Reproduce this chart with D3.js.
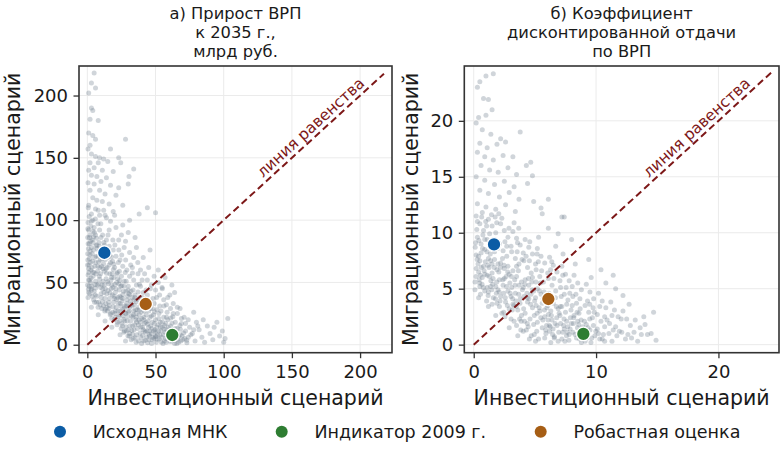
<!DOCTYPE html>
<html lang="ru">
<head>
    <meta charset="UTF-8">
    <title>Сценарии</title>
    <script src="https://d3js.org/d3.v7.min.js"></script>
    <style>
        body { margin: 0; background: #ffffff; }
        svg text { font-family: "DejaVu Sans", sans-serif; fill: #1a1a1a; }
    </style>
</head>
<body>
<svg width="784" height="456"></svg>
<script>
// cloud for panel a (investment scenario, migration scenario)
const cloudA = [
    [5,218],[3,210],[6,206],[1,202],[3,190],[4,188],[2,181],[8,180],[1,170],[4,168],[6,165],[2,160],[0.5,157],[3,153],
    [6,151],[9,150],[12,149],[2,146],[8,146],[15,147],[5,142],[1,140],[11,140],[19,139],[3,136],[7,135],[14,134],[10,131],
    [0.5,130],[5,129],[17,128],[23,126],[2,124],[9,124],[13,121],[21,120],[4,118],[7,116],[11,115],[16,113],[1,112],[26,112],
    [6,109],[12,108],[19,107],[3,105],[9,104],[28,165],[34,141],[44,110],[50,106],[17,157],[23,150],[24.5,146],[30.6,135],
    [30,129],[14,102],[38,105],[31,100],
    [0.5,98],[1,92],[0.3,86],[1.5,81],[0.8,77],[2,72],[0.4,68],[1.2,64],[2.5,60],[0.6,56],[1.8,52],[0.2,48],[2.8,45],[1,42],
    [0.5,38],[2,88],[2.6,95],[1.4,103],[0.7,110],[2.2,66],[3,78],[1.1,58],[2.4,50],
    [4,100],[5,94],[6,88],[3.5,84],[7,80],[4.5,76],[6.5,71],[3.8,67],[5.5,63],[7.5,59],[4.2,55],[6,51],[3.3,47],[5,43],
    [7,39],[4.6,36],[6.8,34],[5.2,90],[7.8,97],[3.6,73],[6.2,66],[4.8,58],[7.3,48],[5.8,40],
    [9,92],[10,86],[8.5,82],[11,77],[12,72],[9.5,68],[10.5,63],[12.5,59],[8.8,55],[11.5,51],[9.8,46],[12.2,42],[10.2,38],
    [8.3,34],[11.8,31],[10.6,29],[12.8,27],[9.2,62],[11.2,88],[12.6,80],[8.6,75],[10.8,48],[9.4,32],
    [14,84],[16,79],[13.5,74],[15,70],[17,66],[14.5,62],[16.5,57],[13.8,53],[15.5,49],[17.5,45],[14.2,41],[16.2,37],[13.6,33],
    [15.8,29],[17.2,25],[14.8,27],[16.8,24],[15.2,88],[17.8,54],[13.2,45],[16,64],[14.4,30],
    [19,76],[21,71],[18.5,67],[20,62],[22,58],[19.5,54],[21.5,50],[18.8,46],[20.5,42],[22.5,38],[19.2,34],[21.2,30],[18.6,26],
    [20.8,22],[22.2,18],[19.8,20],[21.8,16],[20.2,80],[22.8,66],[18.2,57],[21,45],[19.6,39],[22.4,27],
    [24,68],[26,63],[23.5,59],[25,55],[27,51],[24.5,47],[26.5,43],[23.8,39],[25.5,35],[27.5,31],[24.2,27],[26.2,23],[23.6,19],
    [25.8,15],[27.2,11],[24.8,13],[26.8,10],[25.2,72],[27.8,58],[23.2,49],[26,37],[24.6,31],[27.4,19],
    [29,60],[31,55],[28.5,51],[30,47],[32,43],[29.5,39],[31.5,35],[28.8,31],[30.5,27],[32.5,23],[29.2,19],[31.2,15],[28.6,11],
    [30.8,7],[32.2,4],[29.8,7],[31.8,64],[30.4,41],[32.8,31],[28.2,25],[31,9],
    [34,52],[36,48],[33.5,44],[35,40],[37,36],[34.5,32],[36.5,28],[33.8,24],[35.5,20],[37.5,16],[34.2,12],[36.2,8],[33.6,5],
    [35.8,2],[37.2,57],[36,22],[34.8,38],[37.8,30],[33.2,15],
    [39,47],[41,42],[38.5,38],[40,34],[42,30],[39.5,26],[41.5,22],[38.8,18],[40.5,14],[42.5,10],[39.2,6],[41.2,3],[40.2,52],
    [42.8,36],[38.4,28],[41.8,17],[39.8,1],
    [44,40],[46,35],[43.5,31],[45,27],[47,23],[44.5,19],[46.5,15],[43.8,11],[45.5,7],[47.5,4],[44.2,1.5],[46.2,45],[47.8,29],
    [45.8,11],[43.2,24],
    [49,33],[51,28],[48.5,24],[50,20],[52,16],[49.5,12],[51.5,8],[48.8,5],[50.5,2],[52.5,25],[50.8,38],[49.2,17],[52.2,11],
    [54,27],[56,22],[53.5,18],[55,14],[57,10],[54.5,6],[56.5,3],[55.5,1],[57.5,17],[54.8,46],[56.2,31],
    [59,20],[61,15],[63,11],[60,6],[62,3],[64,1],[58.5,26],[64.5,18],[60.5,40],[63,25],
    [66,13],[68,8],[70,4],[67,2],[72,11],[74,6],[69,17],[73,1.5],[71,22],[66,30],
    [77,9],[79,3],[82,12],[84,6],[86,2],[88,15],[90,9],[92,4],[95,18],[97,7],[100,2],[103,21],[99,11],[80,18],[85,20],
    [93,14],[78,26],[101,5],
    [8,108],[13,104],[17,99],[21,94],[25,88],[28,83],[16,92],[23,84],[27,78],[31,74],[34,70],[37,66],[33,62],[39,60],
    [42,57],[44,52],[47,48],[50,44],[53,40],[56,36],[58,32],[61,29],[45,62],[49,55],[52,50],[55,45],[59,38],[63,33],
    [66,25],[69,21],[72,17],[75,14],[78,12],[64,42],[68,29],[74,20],[81,15],[36,78],[41,70],[30,90],[26,96],[20,104],
    [35,86],[46,76],[52,60],[57,54],[62,48],
    [3.4,62],[6.3,57],[9.1,52.5],[12.4,48],[15.2,43.6],[18.3,40],[21.4,36.2],[24.1,33],[27.3,29.4],[30.2,26],[33.4,22.3],
    [36.1,18],[39.3,14.2],[42.2,11],[45.4,8.3],[48.1,6],[51.3,4.4],[54.2,2.2],[57.4,5],[60.1,9.3],[63.3,6],[66.2,4.4],
    [69.4,7],[2.1,75.3],[5.3,70],[8.2,66.4],[11.4,61],[14.1,57.3],[17.3,52],[20.2,48.4],[23.4,44],[26.1,40.3],[29.3,36],
    [32.2,32.4],[35.4,28],[38.1,24.3],[41.3,20],[44.2,16.4],[47.4,13],[50.1,10.3],[53.3,8],[56.2,12.4],[59.4,14],
    [62.1,17.3],[65.3,9],[68.2,12.4],[71.4,5],[4.3,82],[7.1,77.3],[10.3,73],[13.2,68.4],[16.4,72],[19.1,60.3],[22.3,53],
    [25.2,47.4],[28.4,43],[31.1,40.3],[34.3,36],[37.2,42.4],[40.4,38],[43.1,34.3],[46.3,29],[49.2,26.4],[52.4,21],
    [55.1,18.3],[58.3,12],[61.2,21.4],[64.4,13],
    [3,30],[8,24],[13,19],[18,14],[24,8],[28,3],
    [1.3,47],[2.7,53.5],[0.9,61],[3.9,58.2],[5.6,48.3],[2.3,83],[4.1,91],[6.7,85.5],[8.9,79],[1.7,69],[3.1,44],[6.1,45.5],
    [8.4,49],[7.7,63],[9.7,57],[11.9,65],[13.7,61],[10.1,41],[12.9,37],[15.6,34],[11.3,44.5],[14.9,50.5],[17.9,48],
    [16.6,41.5],[19.9,37],[18.9,30.5],[22.7,33.5],[20.6,27],[23.9,24],[25.9,28],[27.9,25.5],[24.7,38],[28.9,33],[30.9,30],
    [26.7,20.5],[29.6,22.5],[31.8,19],[33.9,27],[35.9,25],[34.7,16],[37.9,20],[32.6,11.5],[36.7,13],[38.7,9.5],[40.9,12],
    [39.9,21],[42.9,18],[44.9,14],[43.6,6],[46.9,9],[48.6,11],[47.7,18],[50.9,14],[45.9,22],[49.9,7],[53.9,11],[52.7,4.5],
    [55.9,8],[58.6,6],[57.8,2],[61.9,11.5],[60.7,2.5],[63.9,8.5],[66.7,6.5],[65.7,1],[41.7,27],[44.7,30],[38.9,32],
    [35.7,34.5],[32.9,38],[29.9,44],[26.9,47],[23.7,51.5],[21.7,57],[19.4,64.5],[17.6,70.5],[14.7,76],[12.1,82],[10.9,69],
    [8.1,71],[6.4,79.5],[4.6,86.5],[2.9,99],[5.9,101],[9.9,97],[18.7,84],[23.1,76],[28.1,68],[33.1,57.5],[38.2,48.5],
    [43.1,44],[48.1,37],[53.1,31],[58.1,22],[62.7,22.5],[67.9,15.5],[70.6,9.5],[72.9,3.5],[75.9,8],[3.7,39],[5.3,34],
    [7.9,30],[11.1,34.5],[13.1,28.5],[16.1,31.5],[17.9,21],[20.3,25],[22.9,22.5],[25.4,17],[28.3,14.5],[30.1,12],[33.3,8.5],
    [35.1,5.5],[37.6,3],[40.6,7.5],[42.4,3.5],[45.1,4],[47.1,1],[50.2,6.5],[53.6,14.5],[56.7,15.5],[59.7,9.5],[63.6,3.5],
    [68.6,3],[0.3,73],[0.9,52],[0.2,64],[0.6,81],[1.6,86],[0.4,93],[1.9,41],[0.8,44.5]
];

// cloud for panel b
const cloudB = [
    [0.5,23.5],[1,24],[1.6,24.2],[0.3,23],[0.8,22],[1.2,21.9],[0.4,20.3],[1,20.5],[1.5,21],[0.2,19.8],[0.7,19.2],[1.4,18.8],
    [2.2,18.4],[0.5,18],[1.1,17.6],[1.9,17.9],[2.6,18.1],[3.8,19],[0.3,17.2],[0.9,16.8],[1.6,16.5],[2.4,16.9],[3.2,16.8],
    [4.3,16],[0.6,16],[1.3,15.6],[2,15.4],[2.8,15.8],[3.5,15.2],[4.8,15.1],[0.2,15],[0.9,14.7],[1.7,14.3],[2.5,14.6],
    [3.3,14.1],[4.4,14.4],[0.5,13.8],[1.2,13.5],[2.1,13.2],[2.9,13.6],[3.7,13],[4.66,16.3],[6.1,13],[0.3,12.6],[1,12.3],
    [1.8,12.1],[2.6,12.5],[3.4,11.9],[5.5,12.2],[7.2,11.4],[4.9,12.8],
    [0.2,11.5],[0.5,10.8],[0.8,10.2],[0.3,9.6],[0.6,9],[0.9,8.5],[0.2,8],[0.5,7.5],[0.8,7],[0.4,6.5],[0.7,6],[0.1,5.6],
    [0.5,5.2],[0.9,4.8],[0.3,11],[0.6,8.2],[0.2,6.8],[0.9,9.4],[0.4,7.9],[0.7,11.8],
    [1.2,11.2],[1.5,10.6],[1.8,10],[1.1,9.4],[1.4,8.8],[1.7,8.3],[1.2,7.7],[1.5,7.2],[1.9,6.7],[1.1,6.2],[1.4,5.7],[1.8,5.2],
    [1.2,4.7],[1.6,4.2],[1.9,3.7],[1.3,9.9],[1.7,7.6],[1.5,6.4],[1.1,5.1],
    [2.2,10.8],[2.5,10.2],[2.8,9.6],[2.1,9],[2.4,8.4],[2.7,7.9],[2.2,7.3],[2.5,6.8],[2.9,6.3],[2.1,5.8],[2.4,5.3],[2.8,4.8],
    [2.2,4.3],[2.6,3.8],[2.9,3.2],[2.3,2.8],[2.7,8.8],[2.5,5.9],[2.3,11.3],[2.8,7],
    [3.2,10.1],[3.5,9.5],[3.8,8.9],[3.1,8.3],[3.4,7.7],[3.7,7.2],[3.2,6.6],[3.5,6.1],[3.9,5.6],[3.1,5.1],[3.4,4.6],[3.8,4.1],
    [3.2,3.6],[3.6,3.1],[3.9,2.6],[3.3,2.1],[3.7,5.3],[3.5,7],[3.3,10.9],
    [4.2,9.4],[4.5,8.7],[4.8,8.1],[4.1,7.5],[4.4,6.9],[4.7,6.4],[4.2,5.8],[4.5,5.3],[4.9,4.8],[4.1,4.3],[4.4,3.8],[4.8,3.3],
    [4.2,2.8],[4.6,2.3],[4.9,1.8],[4.3,1.3],[4.7,0.8],[4.5,4.1],[4.8,6],
    [5.2,8.6],[5.5,7.9],[5.8,7.3],[5.1,6.7],[5.4,6.1],[5.7,5.6],[5.2,5],[5.5,4.5],[5.9,4],[5.1,3.5],[5.4,3],[5.8,2.5],
    [5.2,2],[5.6,1.5],[5.9,1],[5.3,0.5],[5.6,3.7],[5.3,9.6],
    [6.2,7.8],[6.5,7.1],[6.8,6.5],[6.1,5.9],[6.4,5.3],[6.7,4.8],[6.2,4.2],[6.5,3.7],[6.9,3.2],[6.1,2.7],[6.4,2.2],[6.8,1.7],
    [6.2,1.2],[6.6,0.7],[6.9,0.3],[6.3,3],[6.7,8.8],
    [7.2,7],[7.5,6.3],[7.8,5.7],[7.1,5.1],[7.4,4.5],[7.7,4],[7.2,3.4],[7.5,2.9],[7.9,2.4],[7.1,1.9],[7.4,1.4],[7.8,0.9],
    [7.2,0.5],[7.6,2.1],[7.3,8.1],
    [8.2,6.2],[8.5,5.5],[8.8,4.9],[8.1,4.3],[8.4,3.7],[8.7,3.2],[8.2,2.6],[8.5,2.1],[8.9,1.6],[8.1,1.1],[8.4,0.6],[8.8,0.2],
    [8.6,2.8],[8.3,7.2],
    [9.2,5.4],[9.5,4.7],[9.8,4.1],[9.1,3.5],[9.4,2.9],[9.7,2.4],[9.2,1.8],[9.5,1.3],[9.9,0.8],[9.1,0.3],[9.4,7.6],[9.6,6],
    [10.2,4.6],[10.5,3.9],[10.8,3.3],[10.1,2.7],[10.4,2.1],[10.7,1.6],[10.2,1],[10.5,0.5],[10.4,6.7],[10.8,5.5],
    [11.2,3.8],[11.5,3.1],[11.8,2.5],[11.1,1.9],[11.4,1.3],[11.7,0.8],[11.3,0.3],[11.6,5],
    [12.2,3],[12.5,2.3],[12.8,1.7],[12.1,1.1],[12.4,0.5],[12.7,3.6],
    [13.2,2.2],[13.6,1.5],[13.9,2.5],[14.2,0.9],[14.5,1],[14.9,0.4],[13.4,0.3],[14,1.8],[14.7,2.9],
    [5.6,11.7],[7.4,11.4],[6.1,10.4],[8,9.4],[12.2,4.4],[11.4,6.2],[6.9,9.9],
    [0.4,4.2],[1.2,3.4],[1.8,2.6],[2.9,1.5],[3.6,0.8],
    [0.35,7.2],[0.75,9.8],[0.15,9.1],[0.55,6.2],[0.95,7.4],[1.05,10.6],[1.35,8.1],[1.65,9.2],[1.95,8.6],[1.25,6.9],
    [1.55,5.4],[1.85,4.6],[2.05,6.5],[2.35,7.7],[2.65,6.1],[2.95,5.5],[2.15,3.9],[2.45,4.6],[2.75,3.5],[3.05,4.3],
    [3.35,5.8],[3.65,6.6],[3.95,7.6],[3.15,3.1],[3.45,3.9],[3.75,2.3],[4.05,5.1],[4.35,4.6],[4.65,3.6],[4.95,2.6],
    [4.15,2.1],[4.45,1.6],[4.75,5.6],[5.05,4.2],[5.35,3.3],[5.65,2.2],[5.95,1.7],[5.15,1.2],[5.45,5.5],[5.75,4.7],
    [6.05,3.5],[6.35,2.6],[6.65,1.9],[6.95,1.1],[6.15,4.6],[6.45,0.9],[6.75,3.4],[7.05,2.6],[7.35,1.7],[7.65,1.1],
    [7.95,3.1],[7.15,4.3],[7.45,0.3],[7.85,4.6],[8.15,1.9],[8.45,2.9],[8.75,1.2],[8.05,3.5],[8.65,0.5],[9.05,2.1],
    [9.35,1.5],[9.65,0.6],[9.85,2.9],[10.1,1.4],[10.6,0.9],[0.25,10.3],[0.65,11.4],[1.45,11.6],[2.05,11.7],[1.15,7.1],
    [0.45,5.8],[0.85,6.6],[2.55,9.2],[3.05,8.8],[3.55,8.3],[4.05,8.2],[4.55,7.5],[5.05,7.2],[5.55,6.6],[6.05,6.4],
    [6.55,5.9],[7.05,5.7],[7.55,5.1],[8.05,5.2],[1.75,11.4],[1.05,3.9],[1.5,3.6],[2.1,3.4],[2.55,2.5],[3.05,2.3],
    [3.5,1.7],[4.05,1.2],[4.55,0.5],[5.05,0.3],[5.8,0.6],[6.3,0.2],[0.1,4.9],[0.55,4.5],[2.45,2.9],[3.85,1.3],
    [4.95,0.9],[6.25,1.6],[7.6,3.6],[8.35,4.5],[9.3,3.9],[9.75,3.3],[10.3,3.4],[10.9,2.2],[11.6,1.6],[12.05,2.3],
    [11.05,1],[12.6,0.9],[13.1,1.1],
    [0.12,8.7],[0.42,9.3],[0.72,8.6],[0.28,7.6],[0.62,6.9],[0.92,6.3],[0.18,6.1],[0.48,5.5],[0.78,5.1],[1.08,8.3],
    [1.38,7.5],[1.68,6.9],[1.98,7.2],[1.28,6.1],[1.58,5.9],[1.88,5.6],[1.18,4.4],[1.48,4.9],[1.78,4.1],[2.08,4.7],
    [2.38,5.8],[2.68,5.2],[2.98,4.6],[2.18,6.9],[2.48,7.1],[2.78,6.5],[3.08,6.1],[3.38,5.3],[3.68,4.5],[3.98,4.9],
    [3.18,4.1],[3.48,3.4],[3.78,3.7],[4.08,3.2],[4.38,4.2],[4.68,4.5],[4.98,3.9],[4.18,5.4],[4.48,5.9],[4.78,4.9],
    [5.08,5.6],[5.38,4.8],[5.68,4.1],[5.98,3.3],[5.18,2.8],[5.48,2.4],[5.78,3.1],[6.08,2.2],[6.38,3.9],[6.68,4.2],
    [6.98,2.8],[6.18,1.7],[6.48,1.4],[6.78,2.4],[7.08,3.4],[7.38,2.3],[7.68,1.6],[7.98,1.9],[7.28,1.1],[7.58,0.8],
    [7.88,1.4],[8.18,2.4],[8.48,1.5],[8.78,2.2],[8.28,0.9],[8.58,1.8],[8.88,0.9],[9.18,1.1],[9.48,2.3],[9.78,1.7],
    [9.28,0.6],[9.58,0.2],[9.98,1.2],[10.3,0.5],[10.7,0.3],[3.58,9.1],[2.88,10.4],[1.88,10.9],[0.98,11],[4.28,7.9],
    [5.28,7.4],[6.28,6.7],[3.28,3.5],[2.58,4.2],[1.98,4.9],[1.38,5.2],[0.68,5.4],[3.88,2.1],[4.38,1.9],[5.88,1.3],
    [6.58,0.6],[7.78,0.4],[3.68,10.4],[4.58,9.2],[5.18,8.1],[6.38,7.4],[7.28,6.2],[8.68,4.1],[9.48,3.6],[10.7,2.5],
    [11.3,2.6],[11.9,1.2],[12.9,0.6],[13.7,0.9]
];

// highlighted estimates: [x, y] per panel
const mnkA = [12.5, 73.8];
const ind2009A = [62.3, 7.8];
const robustA = [42.8, 32.7];
const mnkB = [1.66, 8.96];
const ind2009B = [8.96, 0.96];
const robustB = [6.1, 4.08];

// ticks
const xTicksA = [0, 50, 100, 150, 200];
const yTicksA = [0, 50, 100, 150, 200];
const xTicksB = [0, 10, 20];
const yTicksB = [0, 5, 10, 15, 20];

// titles and legend
const titleA = ["а) Прирост ВРП", "к 2035 г.,", "млрд руб."];
const titleB = ["б) Коэффициент", "дисконтированной отдачи", "по ВРП"];
const legendNames = ["Исходная МНК", "Индикатор 2009 г.", "Робастная оценка"];
const legendColors = ["#0b5ca5", "#2e7d32", "#a65e15"];

const svgElement = d3.select('svg');
const lineColor = "#7d1818";

function drawPanel(p) {
    const x = d3.scaleLinear().domain(p.xDomain).range([p.left, p.right]);
    const y = d3.scaleLinear().domain(p.yDomain).range([p.bottom, p.top]);
    const g = svgElement.append("g");

    // grid
    g.selectAll(".gx").data(p.xTicks).enter().append("line")
        .attr("x1", d => x(d)).attr("x2", d => x(d))
        .attr("y1", p.top).attr("y2", p.bottom)
        .attr("stroke", "#ebebeb").attr("stroke-width", 1);
    g.selectAll(".gy").data(p.yTicks).enter().append("line")
        .attr("x1", p.left).attr("x2", p.right)
        .attr("y1", d => y(d)).attr("y2", d => y(d))
        .attr("stroke", "#ebebeb").attr("stroke-width", 1);

    // grey cloud
    g.selectAll(".pt").data(p.cloud).enter().append("circle")
        .attr("cx", d => x(d[0]))
        .attr("cy", d => y(d[1]))
        .attr("r", 2.5)
        .attr("fill", "#708090")
        .attr("fill-opacity", 0.33);

    // equality line
    g.append("line")
        .attr("x1", x(0)).attr("y1", y(0))
        .attr("x2", x(p.lineEnd)).attr("y2", y(p.lineEnd))
        .attr("stroke", lineColor)
        .attr("stroke-width", 2)
        .attr("stroke-dasharray", "7,4");

    const angle = Math.atan2(y(0) - y(1), x(1) - x(0)) * 180 / Math.PI;
    g.append("text")
        .attr("transform", "translate(" + x(p.labelAt) + "," + y(p.labelAt) + ") rotate(" + (-angle) + ")")
        .attr("y", -4.5)
        .attr("text-anchor", "middle")
        .style("font-size", "15.5px")
        .style("fill", lineColor)
        .text("линия равенства");

    // estimates
    g.selectAll(".hl").data(p.highlights).enter().append("circle")
        .attr("cx", d => x(d[0]))
        .attr("cy", d => y(d[1]))
        .attr("r", 6.8)
        .attr("fill", (d, i) => legendColors[i])
        .attr("stroke", "#ffffff")
        .attr("stroke-width", 1.3);

    // frame
    g.append("rect")
        .attr("x", p.left).attr("y", p.top)
        .attr("width", p.right - p.left).attr("height", p.bottom - p.top)
        .attr("fill", "none")
        .attr("stroke", "#333333")
        .attr("stroke-width", 1.6);

    // axes
    const xAxis = g.append("g")
        .attr("transform", "translate(0," + p.bottom + ")")
        .call(d3.axisBottom(x).tickValues(p.xTicks).tickSize(5.5).tickPadding(7));
    const yAxis = g.append("g")
        .attr("transform", "translate(" + p.left + ",0)")
        .call(d3.axisLeft(y).tickValues(p.yTicks).tickSize(5.5).tickPadding(5.5));
    [xAxis, yAxis].forEach(ax => {
        ax.select(".domain").remove();
        ax.selectAll(".tick line").attr("stroke", "#333333").attr("stroke-width", 1.3);
        ax.selectAll(".tick text")
            .style("font-size", "18px")
            .style("font-family", "DejaVu Sans, sans-serif")
            .attr("fill", "#1a1a1a");
    });

    // axis names
    const cx = (p.left + p.right) / 2;
    g.append("text")
        .attr("x", cx).attr("y", 405)
        .attr("text-anchor", "middle")
        .style("font-size", "20.5px")
        .text("Инвестиционный сценарий");
    g.append("text")
        .attr("transform", "translate(" + p.yLabelX + "," + ((p.top + p.bottom) / 2) + ") rotate(-90)")
        .attr("text-anchor", "middle")
        .style("font-size", "20.5px")
        .text("Миграционный сценарий");

    // title
    p.title.forEach((line, i) => {
        g.append("text")
            .attr("x", cx).attr("y", 18.5 + i * 19)
            .attr("text-anchor", "middle")
            .style("font-size", "16.3px")
            .text(line);
    });
}

drawPanel({
    left: 79, right: 392, top: 66, bottom: 352.7,
    xDomain: [-6.1, 223.4], yDomain: [-6.4, 223.7],
    xTicks: xTicksA, yTicks: yTicksA,
    cloud: cloudA, highlights: [mnkA, ind2009A, robustA],
    lineEnd: 217.5, labelAt: 168.6,
    title: titleA, yLabelX: 20
});

drawPanel({
    left: 464.3, right: 779, top: 66, bottom: 352.7,
    xDomain: [-0.77, 24.95], yDomain: [-0.72, 24.9],
    xTicks: xTicksB, yTicks: yTicksB,
    cloud: cloudB, highlights: [mnkB, ind2009B, robustB],
    lineEnd: 24.3, labelAt: 18.75,
    title: titleB, yLabelX: 418
});

// legend
const legendX = [60, 281.7, 540.7];
const legend = svgElement.append("g");
legendNames.forEach((name, i) => {
    legend.append("circle")
        .attr("cx", legendX[i]).attr("cy", 431.7)
        .attr("r", 6)
        .attr("fill", legendColors[i]);
    legend.append("text")
        .attr("x", legendX[i] + 32.7).attr("y", 437.5)
        .style("font-size", "17.5px")
        .text(name);
});
</script>
</body>
</html>
